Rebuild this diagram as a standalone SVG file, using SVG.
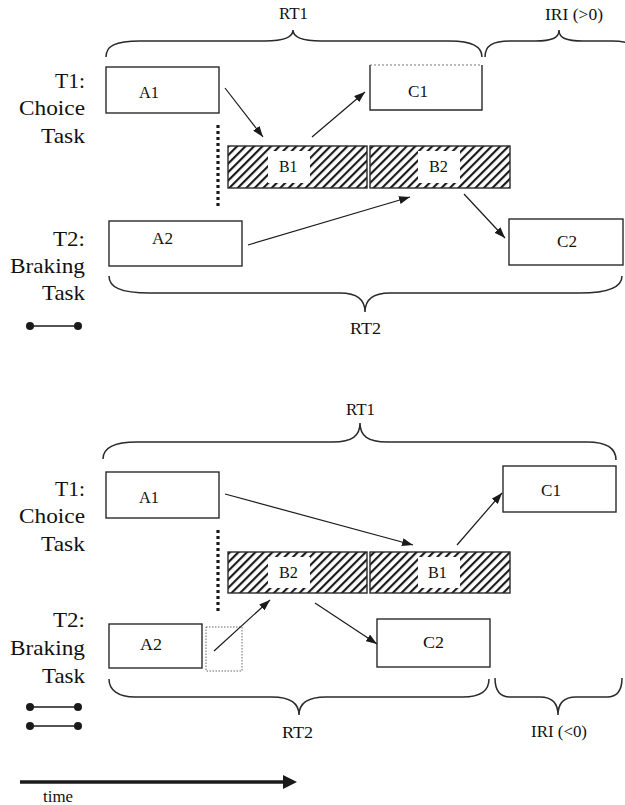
<svg xmlns="http://www.w3.org/2000/svg" width="625" height="805" viewBox="0 0 625 805">
  <defs>
    <style>
      text { font-family: "Liberation Serif", "Times New Roman", serif; fill: #111111; }
      .lbl { font-size: 16px; }
      .task { font-size: 21px; }
      .box { fill: #ffffff; stroke: #2a2a2a; stroke-width: 1.4; }
      .hbox { fill: url(#hatch); stroke: #2a2a2a; stroke-width: 1.4; }
      .hole { fill: #ffffff; stroke: none; }
      .brace { fill: none; stroke: #2a2a2a; stroke-width: 1.5; }
      .arrow { fill: none; stroke: #1a1a1a; stroke-width: 1.2; marker-end: url(#head); }
      .dots { fill: none; stroke: #1a1a1a; stroke-width: 3.2; stroke-dasharray: 3 3; }
      .bell { stroke: #1a1a1a; stroke-width: 1.3; }
      .knob { fill: #1a1a1a; }
    </style>
    <pattern id="hatch" patternUnits="userSpaceOnUse" width="6" height="6" patternTransform="rotate(45)">
      <rect width="6" height="6" fill="#ffffff"/>
      <line x1="1" y1="0" x2="1" y2="6" stroke="#1a1a1a" stroke-width="2.3"/>
    </pattern>
    <marker id="head" markerUnits="userSpaceOnUse" markerWidth="11" markerHeight="8" refX="11" refY="4" orient="auto">
      <path d="M0,0 L11,4 L0,8 z" fill="#1a1a1a"/>
    </marker>
  </defs>

  <!-- ===== Panel 1: T1 before T2 ===== -->
  <g id="p1-labels">
    <text class="task" x="55" y="88" textLength="30" lengthAdjust="spacingAndGlyphs">T1:</text>
    <text class="task" x="19" y="115" textLength="66" lengthAdjust="spacingAndGlyphs">Choice</text>
    <text class="task" x="41" y="143" textLength="44" lengthAdjust="spacingAndGlyphs">Task</text>
    <text class="task" x="53" y="246" textLength="32" lengthAdjust="spacingAndGlyphs">T2:</text>
    <text class="task" x="10" y="273" textLength="75" lengthAdjust="spacingAndGlyphs">Braking</text>
    <text class="task" x="42" y="300" textLength="43" lengthAdjust="spacingAndGlyphs">Task</text>
  </g>

  <g id="p1-rt1">
    <path class="brace" d="M106,57 C106,46 115,41 140,41 L265,41 C283,41 293,38 293,30 C293,38 303,41 321,41 L450,41 C472,41 482,46 482,57"/>
    <text class="lbl" x="279" y="19" textLength="29" lengthAdjust="spacingAndGlyphs">RT1</text>
  </g>
  <g id="p1-iri">
    <path class="brace" d="M485,57 C485,46 492,41 510,41 L535,41 C552,41 559,38 559,30 C559,38 566,41 583,41 L612,41 C631,41 640,46 640,57"/>
    <text class="lbl" x="545" y="20" textLength="58" lengthAdjust="spacingAndGlyphs">IRI (&gt;0)</text>
  </g>
  <g id="p1-rt2">
    <path class="brace" d="M109,276 C109,287 120,293 150,293 L340,293 C358,293 365,300 365,312 C365,300 372,293 390,293 L580,293 C610,293 622,287 622,276"/>
    <text class="lbl" x="350" y="334" textLength="31" lengthAdjust="spacingAndGlyphs">RT2</text>
  </g>

  <g id="p1-a1">
    <rect class="box" x="106" y="67" width="113" height="46"/>
    <text class="lbl" x="139" y="98" textLength="20" lengthAdjust="spacingAndGlyphs">A1</text>
  </g>
  <g id="p1-b1">
    <rect class="hbox" x="228" y="146" width="139" height="42"/>
    <rect class="hole" x="268" y="151" width="42" height="32"/>
    <text class="lbl" x="279" y="172" textLength="18.5" lengthAdjust="spacingAndGlyphs">B1</text>
  </g>
  <g id="p1-b2">
    <rect class="hbox" x="370" y="146" width="140" height="42"/>
    <rect class="hole" x="418" y="151" width="42" height="32"/>
    <text class="lbl" x="429" y="172" textLength="19" lengthAdjust="spacingAndGlyphs">B2</text>
  </g>
  <g id="p1-c1">
    <rect x="370" y="65" width="112" height="45" fill="#ffffff"/>
    <path d="M370,65 L370,110 L482,110 L482,65" fill="none" stroke="#2a2a2a" stroke-width="1.4"/>
    <line x1="370" y1="65" x2="482" y2="65" stroke="#777777" stroke-width="1" stroke-dasharray="2 2"/>
    <text class="lbl" x="408" y="97" textLength="20" lengthAdjust="spacingAndGlyphs">C1</text>
  </g>
  <g id="p1-a2">
    <rect class="box" x="109" y="221" width="133" height="45"/>
    <text class="lbl" x="152" y="244" textLength="21" lengthAdjust="spacingAndGlyphs">A2</text>
  </g>
  <g id="p1-c2">
    <rect class="box" x="509" y="219" width="114" height="46"/>
    <text class="lbl" x="557" y="247" textLength="20" lengthAdjust="spacingAndGlyphs">C2</text>
  </g>
  <g id="p1-sync">
    <line class="dots" x1="218" y1="125" x2="218" y2="208"/>
  </g>
  <g id="p1-legend">
    <line class="bell" x1="30" y1="326" x2="78" y2="326"/>
    <circle class="knob" cx="30" cy="326" r="4"/>
    <circle class="knob" cx="78" cy="326" r="4"/>
  </g>

  <g id="p1-connectors">
    <line class="arrow" x1="225" y1="88" x2="263" y2="137"/>
    <line class="arrow" x1="312" y1="137" x2="365" y2="92"/>
    <line class="arrow" x1="248" y1="245" x2="410" y2="197"/>
    <line class="arrow" x1="464" y1="194" x2="505" y2="238"/>
  </g>

  <!-- ===== Panel 2: T2 before T1 ===== -->
  <g id="p2-labels">
    <text class="task" x="55" y="496" textLength="30" lengthAdjust="spacingAndGlyphs">T1:</text>
    <text class="task" x="19" y="523" textLength="66" lengthAdjust="spacingAndGlyphs">Choice</text>
    <text class="task" x="41" y="551" textLength="44" lengthAdjust="spacingAndGlyphs">Task</text>
    <text class="task" x="53" y="627" textLength="32" lengthAdjust="spacingAndGlyphs">T2:</text>
    <text class="task" x="10" y="655" textLength="75" lengthAdjust="spacingAndGlyphs">Braking</text>
    <text class="task" x="42" y="683" textLength="43" lengthAdjust="spacingAndGlyphs">Task</text>
  </g>

  <g id="p2-rt1">
    <path class="brace" d="M103,459 C103,448 113,442 137,442 L333,442 C352,442 360,436 360,423 C360,436 368,442 387,442 L587,442 C607,442 616,448 616,460"/>
    <text class="lbl" x="346" y="415" textLength="29" lengthAdjust="spacingAndGlyphs">RT1</text>
  </g>
  <g id="p2-rt2">
    <path class="brace" d="M109,679 C109,690 118,697 135,697 L272,697 C292,697 299,704 299,715 C299,704 306,697 326,697 L463,697 C482,697 489,690 489,679"/>
    <text class="lbl" x="282" y="738" textLength="31" lengthAdjust="spacingAndGlyphs">RT2</text>
  </g>
  <g id="p2-iri">
    <path class="brace" d="M495,678 C495,690 500,697 510,697 L540,697 C553,697 558,704 558,715 C558,704 563,697 576,697 L607,697 C617,697 622,690 622,678"/>
    <text class="lbl" x="531" y="737" textLength="56" lengthAdjust="spacingAndGlyphs">IRI (&lt;0)</text>
  </g>

  <g id="p2-a1">
    <rect class="box" x="106" y="472" width="113" height="46"/>
    <text class="lbl" x="139" y="503" textLength="20" lengthAdjust="spacingAndGlyphs">A1</text>
  </g>
  <g id="p2-b2">
    <rect class="hbox" x="228" y="552" width="139" height="41"/>
    <rect class="hole" x="268" y="557" width="42" height="31"/>
    <text class="lbl" x="279" y="578" textLength="19" lengthAdjust="spacingAndGlyphs">B2</text>
  </g>
  <g id="p2-b1">
    <rect class="hbox" x="370" y="552" width="140" height="41"/>
    <rect class="hole" x="418" y="557" width="42" height="31"/>
    <text class="lbl" x="428" y="578" textLength="19" lengthAdjust="spacingAndGlyphs">B1</text>
  </g>
  <g id="p2-c1">
    <rect class="box" x="503" y="466" width="113" height="46"/>
    <text class="lbl" x="541" y="496" textLength="20" lengthAdjust="spacingAndGlyphs">C1</text>
  </g>
  <g id="p2-a2">
    <rect class="box" x="109" y="624" width="93" height="44"/>
    <text class="lbl" x="140" y="650" textLength="22" lengthAdjust="spacingAndGlyphs">A2</text>
  </g>
  <g id="p2-gap">
    <rect x="206" y="627" width="36" height="44" fill="none" stroke="#666666" stroke-width="1" stroke-dasharray="1.5 1.5"/>
  </g>
  <g id="p2-c2">
    <rect class="box" x="377" y="619" width="113" height="48"/>
    <text class="lbl" x="423" y="648" textLength="21" lengthAdjust="spacingAndGlyphs">C2</text>
  </g>
  <g id="p2-sync">
    <line class="dots" x1="218" y1="530" x2="218" y2="614"/>
  </g>
  <g id="p2-legend">
    <line class="bell" x1="30" y1="707" x2="78" y2="707"/>
    <circle class="knob" cx="30" cy="707" r="4"/>
    <circle class="knob" cx="78" cy="707" r="4"/>
    <line class="bell" x1="30" y1="726" x2="78" y2="726"/>
    <circle class="knob" cx="30" cy="726" r="4"/>
    <circle class="knob" cx="78" cy="726" r="4"/>
  </g>

  <g id="p2-connectors">
    <line class="arrow" x1="225" y1="494" x2="413" y2="545"/>
    <line class="arrow" x1="457" y1="545" x2="502" y2="493"/>
    <line class="arrow" x1="214" y1="651" x2="270" y2="600"/>
    <line class="arrow" x1="315" y1="603" x2="377" y2="644"/>
  </g>

  <!-- time axis -->
  <g id="time-axis">
    <line x1="20" y1="782" x2="285" y2="782" stroke="#1a1a1a" stroke-width="3.6"/>
    <polygon points="283,775 297,782 283,789" fill="#1a1a1a"/>
    <text class="lbl" x="43" y="802" textLength="30" lengthAdjust="spacingAndGlyphs">time</text>
  </g>
</svg>
